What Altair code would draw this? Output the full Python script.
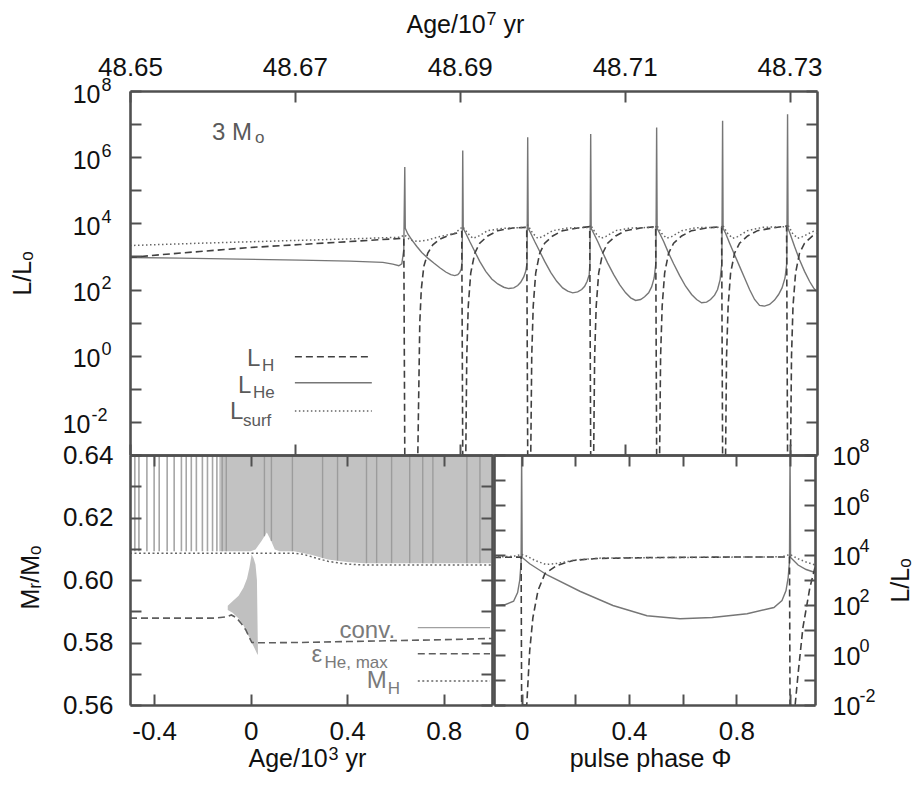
import altair as alt
import pandas as pd

FONT = "Liberation Sans"
AX = "#505050"
TXT = "#111111"

# ---------------- TOP PANEL: luminosities vs Age/10^7 yr (values are log10 L/Lsun) ----------------
he_age = [48.65000, 48.65606, 48.66333, 48.67061, 48.67667, 48.68067, 48.68188, 48.68261, 48.68297, 48.68321, 48.68333,
          48.68339, 48.68370, 48.68418, 48.68479, 48.68539, 48.68612, 48.68685, 48.68758, 48.68830, 48.68891, 48.68939,
          48.68976, 48.69000, 48.69018, 48.69029, 48.69036,
          48.69042, 48.69073, 48.69121, 48.69182, 48.69242, 48.69315, 48.69388, 48.69461, 48.69533, 48.69594, 48.69655,
          48.69703, 48.69739, 48.69776, 48.69800, 48.69816, 48.69824,
          48.69830, 48.69861, 48.69909, 48.69970, 48.70030, 48.70103, 48.70176, 48.70248, 48.70309, 48.70370, 48.70430,
          48.70479, 48.70515, 48.70545, 48.70570, 48.70579, 48.70588,
          48.70594, 48.70624, 48.70673, 48.70733, 48.70794, 48.70867, 48.70939, 48.71012, 48.71073, 48.71133, 48.71194,
          48.71242, 48.71291, 48.71327, 48.71358, 48.71379, 48.71388,
          48.71394, 48.71424, 48.71473, 48.71533, 48.71594, 48.71667, 48.71739, 48.71812, 48.71873, 48.71933, 48.71994,
          48.72042, 48.72091, 48.72127, 48.72158, 48.72179, 48.72188,
          48.72194, 48.72224, 48.72273, 48.72333, 48.72394, 48.72455, 48.72515, 48.72576, 48.72636, 48.72697, 48.72758,
          48.72818, 48.72867, 48.72909, 48.72945, 48.72967, 48.72976,
          48.72982, 48.73012, 48.73061, 48.73121, 48.73182, 48.73242, 48.73291, 48.73327]
he_logL = [2.97, 2.95, 2.92, 2.89, 2.86, 2.82, 2.77, 2.72, 2.78, 3.2, 5.7,
           3.85, 3.68, 3.5, 3.3, 3.12, 2.95, 2.8, 2.66, 2.53, 2.45, 2.42,
           2.45, 2.52, 2.62, 2.85, 6.2,
           3.85, 3.7, 3.45, 3.15, 2.85, 2.55, 2.32, 2.17, 2.07, 2.03, 2.05,
           2.12, 2.22, 2.38, 2.55, 2.8, 6.6,
           3.85, 3.7, 3.45, 3.15, 2.85, 2.52, 2.25, 2.05, 1.95, 1.9, 1.93,
           2.0, 2.1, 2.25, 2.45, 2.8, 6.7,
           3.85, 3.7, 3.45, 3.12, 2.8, 2.45, 2.15, 1.9, 1.75, 1.67, 1.7,
           1.78, 1.9, 2.08, 2.35, 2.8, 6.9,
           3.85, 3.7, 3.45, 3.1, 2.78, 2.42, 2.1, 1.85, 1.7, 1.6, 1.62,
           1.7, 1.83, 2.0, 2.3, 2.8, 7.1,
           3.85, 3.7, 3.4, 3.05, 2.7, 2.35, 2.0, 1.7, 1.52, 1.5, 1.55,
           1.68, 1.85, 2.05, 2.35, 2.8, 7.3,
           3.85, 3.65, 3.3, 2.9, 2.55, 2.25, 2.05, 1.95]

h_age = [48.65000, 48.65364, 48.65848, 48.66455, 48.67061, 48.67667, 48.68321, 48.68333,
         48.68491, 48.68503, 48.68515, 48.68533, 48.68564, 48.68612, 48.68673, 48.68758, 48.68879, 48.69024, 48.69036,
         48.69073, 48.69085, 48.69103, 48.69133, 48.69182, 48.69242, 48.69339, 48.69461, 48.69642, 48.69812, 48.69824,
         48.69861, 48.69873, 48.69891, 48.69921, 48.69970, 48.70030, 48.70127, 48.70248, 48.70430, 48.70576, 48.70588,
         48.70624, 48.70636, 48.70655, 48.70685, 48.70733, 48.70794, 48.70891, 48.71012, 48.71194, 48.71376, 48.71388,
         48.71424, 48.71436, 48.71455, 48.71485, 48.71533, 48.71594, 48.71691, 48.71812, 48.71994, 48.72176, 48.72188,
         48.72224, 48.72236, 48.72255, 48.72285, 48.72333, 48.72394, 48.72491, 48.72612, 48.72794, 48.72964, 48.72976,
         48.73012, 48.73024, 48.73042, 48.73073, 48.73121, 48.73182, 48.73279, 48.73327]
h_logL = [2.97, 3.05, 3.15, 3.27, 3.36, 3.45, 3.55, -5,
          -5, -1, 1.0, 2.0, 2.7, 3.1, 3.35, 3.52, 3.65, 3.75, -5,
          -5, 0, 1.5, 2.5, 3.1, 3.4, 3.62, 3.78, 3.86, 3.88, -5,
          -5, 0, 1.5, 2.5, 3.1, 3.4, 3.62, 3.78, 3.86, 3.9, -5,
          -5, 0, 1.5, 2.5, 3.1, 3.4, 3.62, 3.78, 3.86, 3.9, -5,
          -5, 0, 1.5, 2.5, 3.1, 3.4, 3.62, 3.78, 3.86, 3.9, -5,
          -5, 0, 1.5, 2.5, 3.1, 3.4, 3.62, 3.78, 3.86, 3.92, -5,
          -5, 0, 1.5, 2.5, 3.1, 3.4, 3.62, 3.7]

s_age = [48.65000, 48.65848, 48.66818, 48.67667, 48.68273, 48.68333,
         48.68394, 48.68491, 48.68612, 48.68758, 48.68939, 48.69036,
         48.69097, 48.69158, 48.69218, 48.69339, 48.69521, 48.69812, 48.69824,
         48.69885, 48.69945, 48.70006, 48.70127, 48.70309, 48.70576, 48.70588,
         48.70648, 48.70709, 48.70770, 48.70891, 48.71073, 48.71376, 48.71388,
         48.71448, 48.71509, 48.71570, 48.71691, 48.71873, 48.72176, 48.72188,
         48.72248, 48.72309, 48.72370, 48.72491, 48.72673, 48.72964, 48.72976,
         48.73036, 48.73097, 48.73158, 48.73279, 48.73327]
s_logL = [3.33, 3.40, 3.47, 3.53, 3.58, 3.65,
          3.5, 3.45, 3.5, 3.6, 3.7, 3.9,
          3.7, 3.55, 3.6, 3.78, 3.85, 3.88, 3.95,
          3.7, 3.55, 3.6, 3.78, 3.86, 3.88, 3.95,
          3.7, 3.55, 3.6, 3.78, 3.86, 3.88, 3.95,
          3.7, 3.55, 3.6, 3.78, 3.87, 3.88, 3.95,
          3.7, 3.55, 3.6, 3.78, 3.88, 3.9, 3.97,
          3.7, 3.55, 3.6, 3.75, 3.78]

# top legend (line samples) and annotations, in data units
top_leg_age = [48.67000, 48.67933]
top_leg_logL = {"H": -0.03, "He": -0.818, "surf": -1.667}
top_big_text = ["3 M", "L", "L", "L"]
top_big_age = [48.65994, 48.66418, 48.66309, 48.66212]
top_big_logL = [6.515, -0.303, -1.121, -1.909]
top_sub_text = ["o", "H", "He", "surf"]
top_sub_age = [48.66515, 48.66600, 48.66491, 48.66370]
top_sub_logL = [6.44, -0.455, -1.273, -2.12]

# ---------------- BOTTOM LEFT: Kippenhahn diagram (Age/10^3 yr, Mr/Msun) ----------------
sparse_age = [-0.48, -0.463, -0.43, -0.40, -0.379, -0.346, -0.317, -0.287, -0.267, -0.246, -0.225, -0.20, -0.179, -0.158, -0.14]
sparse_lo = 0.6092
env_age = [-0.13, 0.0, 0.02, 0.045, 0.067, 0.085, 0.10, 0.12, 0.18, 0.25, 0.32, 0.40, 0.47, 0.60, 0.80, 0.997]
env_lo = [0.6092, 0.6092, 0.6098, 0.6125, 0.6152, 0.6125, 0.6098, 0.6092, 0.6092, 0.6081, 0.6066, 0.6058, 0.6054, 0.6054, 0.6054, 0.6054]
stripe_age = [-0.118, -0.101, 0.057, 0.086, 0.173, 0.298, 0.36, 0.48, 0.522, 0.584, 0.659, 0.713, 0.755, 0.896, 0.95]
stripe_lo = [0.6092, 0.6092, 0.6140, 0.6125, 0.6092, 0.6070, 0.6062, 0.6054, 0.6054, 0.6054, 0.6054, 0.6054, 0.6054, 0.6054, 0.6054]
env_top = 0.64
ish_age = [-0.095, -0.075, -0.05, -0.03, -0.015, -0.005, 0.004, 0.012, 0.02, 0.026, 0.03]
ish_lo = [0.5904, 0.5895, 0.5877, 0.5855, 0.5830, 0.5815, 0.5800, 0.5788, 0.5775, 0.5765, 0.5760]
ish_hi = [0.5918, 0.5932, 0.5950, 0.5975, 0.6005, 0.6040, 0.6082, 0.6070, 0.6050, 0.6000, 0.5775]
eps_age = [-0.5, -0.15, -0.10, -0.08, -0.06, -0.04, -0.02, -0.005, 0.005, 0.05, 0.2, 0.4, 0.6, 0.8, 1.0]
eps_m = [0.5878, 0.5878, 0.5882, 0.5888, 0.5880, 0.5862, 0.5840, 0.5815, 0.5800, 0.5799, 0.5800, 0.5803, 0.5806, 0.5809, 0.5813]
mh_age = [-0.5, 0.18, 0.22, 0.25, 0.29, 0.32, 0.36, 0.40, 0.47, 1.0]
mh_m = [0.6086, 0.6086, 0.6082, 0.6075, 0.6066, 0.6060, 0.6055, 0.6051, 0.6048, 0.6048]
bl_leg_age = [0.6925, 0.9917]
bl_leg_m = {"conv": 0.58473, "eps": 0.5764, "mh": 0.5677}
bl_big_text = ["conv.", "ε", "M"]
bl_big_age = [0.368, 0.252, 0.4806]
bl_big_m = [0.5815, 0.5738, 0.5655]
bl_sub_text = ["He, max", "H"]
bl_sub_age = [0.306, 0.5679]
bl_sub_m = [0.5719, 0.5635]

# ---------------- BOTTOM RIGHT: one pulse cycle vs pulse phase ----------------
br_he_phi = [-0.103, -0.06, -0.03, -0.015, -0.007, -0.002, 0.0, 0.002, 0.03, 0.095, 0.217, 0.34, 0.467, 0.59, 0.71, 0.84,
             0.94, 0.97, 0.985, 0.993, 0.998, 1.0, 1.002, 1.03, 1.06, 1.093]
br_he_logL = [1.98, 2.02, 2.15, 2.5, 3.0, 3.7, 9.0, 3.9, 3.65, 3.2, 2.55, 1.98, 1.57, 1.45, 1.5, 1.65,
              1.9, 2.18, 2.58, 3.1, 3.75, 9.0, 3.9, 3.6, 3.42, 3.3]
br_h_phi = [-0.103, -0.002, 0.0, 0.019, 0.03, 0.042, 0.061, 0.087, 0.131, 0.191, 0.279, 0.5, 0.8, 0.998, 1.0,
            1.019, 1.030, 1.048, 1.074, 1.093]
br_h_logL = [3.9, 3.92, -5, -5, 0.17, 1.5, 2.58, 3.26, 3.58, 3.78, 3.86, 3.9, 3.92, 3.92, -5,
             -5, -0.75, 1.1, 2.7, 3.5]
br_s_phi = [-0.103, -0.03, 0.0, 0.02, 0.05, 0.09, 0.13, 0.2, 0.3, 0.6, 0.97, 1.0, 1.03, 1.06, 1.093]
br_s_logL = [3.92, 3.95, 4.02, 3.95, 3.78, 3.62, 3.66, 3.8, 3.88, 3.9, 3.93, 4.02, 3.85, 3.72, 3.6]

# ---------------- tick values ----------------
top_x_ticks = [48.65, 48.67, 48.69, 48.71, 48.73]
top_y_ticks = [1e-3, 1e-2, 1e-1, 1e0, 1e1, 1e2, 1e3, 1e4, 1e5, 1e6, 1e7, 1e8]
log_labels = [1e-2, 1e0, 1e2, 1e4, 1e6, 1e8]
bl_x_ticks = [-0.4, 0.0, 0.4, 0.8]
bl_y_ticks = [0.56, 0.57, 0.58, 0.59, 0.60, 0.61, 0.62, 0.63, 0.64]
bl_y_labels = [0.56, 0.58, 0.60, 0.62, 0.64]
br_x_ticks = [0.0, 0.2, 0.4, 0.6, 0.8, 1.0]
br_x_labels = [0.0, 0.4, 0.8]
br_y_ticks = [1e-2, 1e-1, 1e0, 1e1, 1e2, 1e3, 1e4, 1e5, 1e6, 1e7, 1e8]

W, H = 687, 614
FS = 25
NFS = 26
EXP_EXPR = "['-2','0','2','4','6','8'][round(log(datum.value)/LN10/2)+1]"


def tick_axis(orient, offset, values):
    return alt.Axis(orient=orient, offset=offset, values=values, labels=False, title=None, grid=False,
                    domainColor=AX, domainWidth=2.6, tickColor=AX, tickWidth=2, tickSize=11, zindex=3)


def lab_axis(orient, values, expr, pad, offset=0, size=FS, align=None, loff=0, title=None, tx=None, ty=None,
             tangle=0, talign="left", tbase="alphabetic"):
    kw = dict(orient=orient, values=values, labelExpr=expr, domain=False, ticks=False, tickSize=0,
              grid=False, labelPadding=pad, labelFlush=False, labelOverlap=False, offset=offset,
              labelFont=FONT, labelFontSize=size, labelColor=TXT, labelOffset=loff)
    if align is not None:
        kw["labelAlign"] = align
    if title is None:
        kw["title"] = None
    else:
        kw.update(title=title, titleX=tx, titleY=ty, titleAngle=tangle, titleAlign=talign, titleBaseline=tbase,
                  titleFont=FONT, titleFontSize=FS, titleFontWeight="normal", titleColor=TXT)
    return alt.Axis(**kw)


def title_axis(orient, text, tx, ty, size):
    return alt.Axis(orient=orient, labels=False, ticks=False, domain=False, grid=False, title=text,
                    titleX=tx, titleY=ty, titleAngle=0, titleAlign="left", titleBaseline="alphabetic",
                    titleFont=FONT, titleFontSize=size, titleFontWeight="normal", titleColor=TXT)


def sx_top():
    return alt.Scale(domain=[48.65, 48.73333], range=[0, 687], nice=False, zero=False)


def sy_top():
    return alt.Scale(type="log", domain=[1e-3, 1e8], range=[364, 0], nice=False, clamp=True)


def sx_bl():
    return alt.Scale(domain=[-0.5, 1.0], range=[0, 362], nice=False, zero=False)


def sy_bl():
    return alt.Scale(domain=[0.56, 0.64], range=[614, 364], nice=False, zero=False, clamp=True)


def sx_br():
    return alt.Scale(domain=[-0.103, 1.093], range=[364, 685], nice=False, zero=False, clamp=True)


def sy_br():
    return alt.Scale(type="log", domain=[1e-2, 1e8], range=[614, 364], nice=False, clamp=True)


def series(xs, ys, log=True, legend=None):
    rows = [{"x": a, "y": (10 ** b if log else b), "g": 0, "i": k} for k, (a, b) in enumerate(zip(xs, ys))]
    if legend is not None:
        lx, ly = legend
        for k, a in enumerate(lx):
            rows.append({"x": a, "y": (10 ** ly if log else ly), "g": 1, "i": k})
    return pd.DataFrame(rows)


def line(df, sx, sy, xaxis, yaxis, **mk):
    return alt.Chart(df).mark_line(**mk).encode(
        x=alt.X("x:Q", scale=sx, axis=xaxis),
        y=alt.Y("y:Q", scale=sy, axis=yaxis),
        detail="g:N",
        order=alt.Order("i:Q"),
    )


def texts(txt, xs, ys, sx, sy, size, color, log=True, xaxis=None, yaxis=None):
    df = pd.DataFrame({"x": xs, "y": [10 ** v if log else v for v in ys], "t": txt})
    return alt.Chart(df).mark_text(align="left", baseline="alphabetic", font=FONT, fontSize=size, color=color).encode(
        x=alt.X("x:Q", scale=sx, axis=xaxis), y=alt.Y("y:Q", scale=sy, axis=yaxis), text="t:N")


left_pad = {"condition": {"test": "datum.value < 0.5", "value": 40}, "value": 30}
left_sup_pad = {"condition": {"test": "datum.value < 0.5", "value": 39}, "value": 29}

# ---- top panel layers
top_he = line(series(he_age, he_logL, legend=(top_leg_age, top_leg_logL["He"])), sx_top(), sy_top(),
              lab_axis("top", top_x_ticks, "format(datum.value, '.2f')", 11, size=NFS,
                       title="Age/10", tx=276, ty=-59),
              lab_axis("left", log_labels, "'10'", left_pad, loff=3, title="L/Lₒ", tx=-108, ty=182,
                       tangle=270, talign="center", tbase="middle"),
              color="#767676", strokeWidth=1.4)
top_h = line(series(h_age, h_logL, legend=(top_leg_age, top_leg_logL["H"])), sx_top(), sy_top(),
             tick_axis("bottom", -614, top_x_ticks), tick_axis("right", -687, top_y_ticks),
             color="#404040", strokeWidth=1.6, strokeDash=[7, 4])
top_s = line(series(s_age, s_logL, legend=(top_leg_age, top_leg_logL["surf"])), sx_top(), sy_top(),
             tick_axis("top", -364, top_x_ticks), tick_axis("left", -687, top_y_ticks),
             color="#666666", strokeWidth=1.5, strokeDash=[1.5, 2.5])
top_t1 = texts(top_big_text, top_big_age, top_big_logL, sx_top(), sy_top(), 24, "#5a5a5a",
               xaxis=title_axis("top", "7", 356, -67, 18),
               yaxis=lab_axis("left", log_labels, EXP_EXPR, left_sup_pad, size=18, align="left", loff=-6))
top_t2 = texts(top_sub_text, top_sub_age, top_sub_logL, sx_top(), sy_top(), 17, "#5a5a5a",
               xaxis=title_axis("top", "yr", 373, -59, FS))

# ---- bottom-left layers
sparse_df = pd.DataFrame({"x": sparse_age, "lo": [sparse_lo] * len(sparse_age), "hi": [env_top] * len(sparse_age)})
bl_sparse = alt.Chart(sparse_df).mark_rule(color="#a6a6a6", strokeWidth=1.6).encode(
    x=alt.X("x:Q", scale=sx_bl(), axis=None), y=alt.Y("lo:Q", scale=sy_bl(), axis=None), y2="hi:Q")
env_df = pd.DataFrame({"x": env_age, "lo": env_lo, "hi": [env_top] * len(env_age)})
bl_env = alt.Chart(env_df).mark_area(color="#c2c2c2", opacity=1).encode(
    x=alt.X("x:Q", scale=sx_bl(), axis=tick_axis("top", -614, bl_x_ticks)),
    y=alt.Y("lo:Q", scale=sy_bl(), axis=tick_axis("left", -362, bl_y_ticks)), y2="hi:Q")
stripe_df = pd.DataFrame({"x": stripe_age, "lo": stripe_lo, "hi": [env_top] * len(stripe_age)})
bl_stripe = alt.Chart(stripe_df).mark_rule(color="#9c9c9c", strokeWidth=1.4).encode(
    x=alt.X("x:Q", scale=sx_bl(), axis=None), y=alt.Y("lo:Q", scale=sy_bl(), axis=None), y2="hi:Q")
ish_df = pd.DataFrame({"x": ish_age, "lo": ish_lo, "hi": ish_hi})
bl_ish = alt.Chart(ish_df).mark_area(color="#c0c0c0", opacity=1).encode(
    x=alt.X("x:Q", scale=sx_bl(), axis=None), y=alt.Y("lo:Q", scale=sy_bl(), axis=None), y2="hi:Q")
bl_eps = line(series(eps_age, eps_m, log=False, legend=(bl_leg_age, bl_leg_m["eps"])), sx_bl(), sy_bl(),
              lab_axis("bottom", bl_x_ticks,
                       "datum.value == 0 ? '0' : (datum.value < 0 ? '-' : '') + format(abs(datum.value), '.1f')", 13,
                       size=NFS, title="Age/10", tx=118, ty=61),
              lab_axis("left", bl_y_labels, "format(datum.value, '.2f')", 17, size=NFS, title="Mᵣ/Mₒ", tx=-100,
                       ty=486, tangle=270, talign="center", tbase="middle"),
              color="#5e5e5e", strokeWidth=1.6, strokeDash=[7, 4])
bl_mh = line(series(mh_age, mh_m, log=False, legend=(bl_leg_age, bl_leg_m["mh"])), sx_bl(), sy_bl(),
             tick_axis("bottom", -250, bl_x_ticks), tick_axis("right", -687, bl_y_ticks),
             color="#666666", strokeWidth=1.5, strokeDash=[2, 2.5])
conv_df = pd.DataFrame({"x": bl_leg_age, "y": [bl_leg_m["conv"]] * 2, "g": [0, 0], "i": [0, 1]})
bl_conv = line(conv_df, sx_bl(), sy_bl(), None, None, color="#a0a0a0", strokeWidth=1.2)
bl_t1 = texts(bl_big_text, bl_big_age, bl_big_m, sx_bl(), sy_bl(), 24, "#7a7a7a", log=False,
              xaxis=title_axis("bottom", "3", 198, 54, 18))
bl_t2 = texts(bl_sub_text, bl_sub_age, bl_sub_m, sx_bl(), sy_bl(), 17, "#7a7a7a", log=False,
              xaxis=title_axis("bottom", "yr", 215, 61, FS))

# ---- bottom-right layers
br_he = line(series(br_he_phi, br_he_logL), sx_br(), sy_br(),
             lab_axis("bottom", br_x_labels, "datum.value == 0 ? '0' : format(datum.value, '.1f')", 13, size=NFS,
                      title="pulse phase Φ", tx=520, ty=61, talign="center"),
             lab_axis("right", log_labels, "'10'", 17, offset=-2, loff=1, title="L/Lₒ", tx=85, ty=489,
                      tangle=270, talign="center", tbase="middle"),
             color="#767676", strokeWidth=1.4)
br_h = line(series(br_h_phi, br_h_logL), sx_br(), sy_br(),
            tick_axis("bottom", -250, br_x_ticks), tick_axis("right", -323, br_y_ticks),
            color="#404040", strokeWidth=1.6, strokeDash=[7, 4])
br_s = line(series(br_s_phi, br_s_logL), sx_br(), sy_br(),
            tick_axis("top", -614, br_x_ticks), tick_axis("left", -685, br_y_ticks),
            color="#666666", strokeWidth=1.5, strokeDash=[1.5, 2.5])
br_sup = alt.Chart(series(br_s_phi, br_s_logL)).mark_point(opacity=0).encode(
    x=alt.X("x:Q", scale=sx_br(), axis=None),
    y=alt.Y("y:Q", scale=sy_br(), axis=lab_axis("right", log_labels, EXP_EXPR, 44, offset=-2, size=18,
                                                 align="left", loff=-9)))

chart = alt.layer(
    bl_sparse, bl_env, bl_stripe, bl_ish, bl_eps, bl_mh, bl_conv, bl_t1, bl_t2,
    top_he, top_h, top_s, top_t1, top_t2,
    br_he, br_h, br_s, br_sup,
).resolve_scale(x="independent", y="independent").resolve_axis(x="independent", y="independent").properties(
    width=W, height=H,
    autosize=alt.AutoSizeParams(type="none"),
    padding={"left": 122, "top": 83, "right": 97, "bottom": 74},
    background="white",
).configure_view(stroke=None)

chart.save("out.html", embed_options={"renderer": "svg", "actions": False})
